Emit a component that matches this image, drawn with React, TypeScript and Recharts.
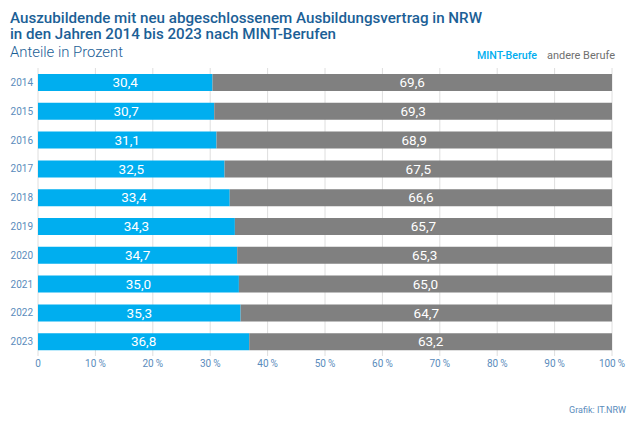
import { BarChart, Bar, XAxis, YAxis, CartesianGrid, LabelList } from "recharts";

const years = ["2014", "2015", "2016", "2017", "2018", "2019", "2020", "2021", "2022", "2023"];
const mintShare = [30.4, 30.7, 31.1, 32.5, 33.4, 34.3, 34.7, 35.0, 35.3, 36.8];
const otherShare = [69.6, 69.3, 68.9, 67.5, 66.6, 65.7, 65.3, 65.0, 64.7, 63.2];
const xTicks = [0, 10, 20, 30, 40, 50, 60, 70, 80, 90, 100];

const data = years.map((year, i) => ({ year, mint: mintShare[i], other: otherShare[i] }));

const FONT = "Roboto, 'DejaVu Sans', sans-serif";
const TITLE = "#1b6096";
const AXIS_TEXT = "#5a8cbc";
const MINT = "#00aeef";
const OTHER = "#808080";

const fmt = (v: number) => v.toFixed(1).replace(".", ",");

export default function App() {
  return (
    <div
      style={{
        position: "absolute",
        left: 0,
        top: 0,
        width: 636,
        height: 424,
        background: "#fff",
        fontFamily: FONT,
      }}
    >
      <BarChart
        width={636}
        height={424}
        data={data}
        layout="vertical"
        margin={{ top: 68, right: 24, bottom: 38, left: 0 }}
      >
        <CartesianGrid horizontal={false} stroke="#dedede" />
        <XAxis
          type="number"
          domain={[0, 100]}
          ticks={xTicks}
          interval={0}
          tickFormatter={(v: number) => (v === 0 ? "0" : `${v}\u2009%`)}
          tick={{ fontSize: 10, fill: AXIS_TEXT, fontFamily: FONT }}
          axisLine={false}
          tickLine={false}
          tickSize={2}
          tickMargin={2}
        />
        <YAxis
          type="category"
          dataKey="year"
          width={38}
          tick={{ fontSize: 10, fill: AXIS_TEXT, fontFamily: FONT }}
          axisLine={false}
          tickLine={false}
          tickSize={5}
          tickMargin={0}
        />
        <Bar dataKey="mint" stackId="a" fill={MINT} barSize={17} isAnimationActive={false}>
          <LabelList
            dataKey="mint"
            position="center"
            formatter={(v: number) => fmt(v)}
            style={{ fill: "#fff", fontSize: 13.5, fontFamily: FONT }}
          />
        </Bar>
        <Bar dataKey="other" stackId="a" fill={OTHER} barSize={17} isAnimationActive={false}>
          <LabelList
            dataKey="other"
            position="center"
            formatter={(v: number) => fmt(v)}
            style={{ fill: "#fff", fontSize: 13.5, fontFamily: FONT }}
          />
        </Bar>
      </BarChart>

      <svg
        width={636}
        height={424}
        style={{ position: "absolute", left: 0, top: 0, pointerEvents: "none" }}
      >
        <text
          x={10}
          y={22.5}
          fill={TITLE}
          fontSize={15}
          fontWeight={500}
          fontFamily={FONT}
          textLength={472}
          lengthAdjust="spacingAndGlyphs"
        >
          Auszubildende mit neu abgeschlossenem Ausbildungsvertrag in NRW
        </text>
        <text
          x={10}
          y={39}
          fill={TITLE}
          fontSize={15}
          fontWeight={500}
          fontFamily={FONT}
          textLength={326}
          lengthAdjust="spacingAndGlyphs"
        >
          in den Jahren 2014 bis 2023 nach MINT-Berufen
        </text>
        <text
          x={10}
          y={56.5}
          fill={TITLE}
          fontSize={15}
          fontWeight={300}
          fontFamily={FONT}
          textLength={113}
          lengthAdjust="spacingAndGlyphs"
        >
          Anteile in Prozent
        </text>
        <text
          x={477}
          y={59}
          fill={MINT}
          fontSize={11}
          fontWeight={500}
          fontFamily={FONT}
          textLength={60}
          lengthAdjust="spacingAndGlyphs"
        >
          MINT-Berufe
        </text>
        <text
          x={547}
          y={59}
          fill="#707070"
          fontSize={11}
          fontFamily={FONT}
          textLength={68}
          lengthAdjust="spacingAndGlyphs"
        >
          andere Berufe
        </text>
        <text x={626} y={413} fill={AXIS_TEXT} fontSize={9} fontFamily={FONT} textAnchor="end">
          Grafik: IT.NRW
        </text>
      </svg>
    </div>
  );
}
